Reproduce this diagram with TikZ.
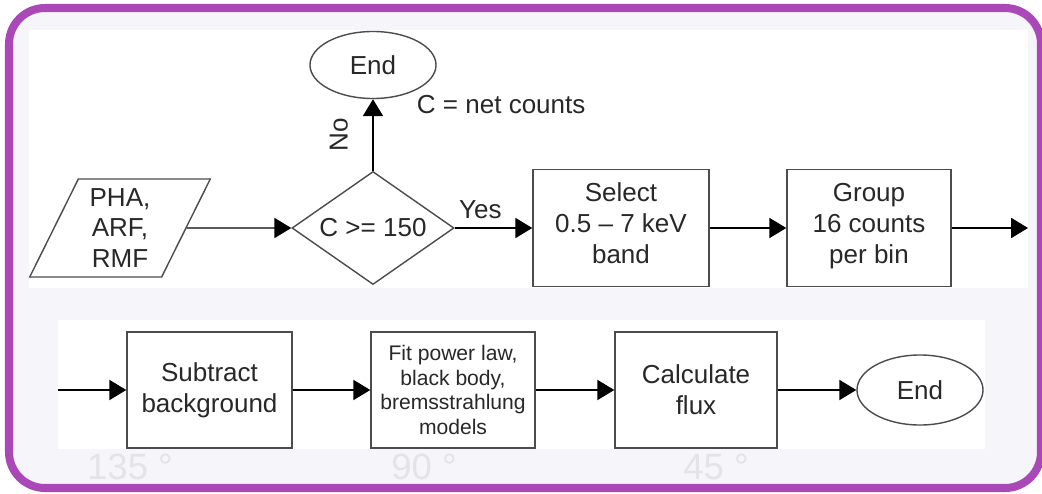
\documentclass[tikz,border=0pt]{standalone}
\usepackage{fontspec}
\setmainfont{Liberation Sans}
\usetikzlibrary{arrows.meta,shapes.geometric}
\definecolor{framepurple}{RGB}{170,72,183}
\definecolor{bgtint}{RGB}{246,245,249}
\definecolor{inkgray}{RGB}{40,40,40}
\definecolor{degreegray}{RGB}{228,228,231}
\tikzset{
  every node/.style={text=inkgray,font=\fontsize{18.5}{22}\selectfont,align=center},
  procbox/.style={draw=black!70,line width=1pt,minimum height=2.9cm,inner sep=2pt},
  termbox/.style={draw=black!70,line width=1pt,ellipse,minimum width=3.15cm,minimum height=1.7cm,inner sep=0pt},
  iobox/.style={draw=black!70,line width=1pt,trapezium,trapezium left angle=66,trapezium right angle=114,trapezium stretches=true,minimum width=4.55cm,minimum height=2.45cm,inner sep=0pt},
  testbox/.style={draw=black!70,line width=1pt,diamond,aspect=1.43,minimum width=4.05cm,minimum height=2.825cm,inner sep=0pt},
  flow/.style={draw=black,line width=1pt,-{Triangle[length=0.42cm,width=0.5cm]}},
  degreelabel/.style={text=degreegray,font=\fontsize{26}{30}\selectfont}
}
\begin{document}
\begin{tikzpicture}[x=0.025cm,y=-0.025cm]
  \useasboundingbox (0,0) rectangle (1042,494);
  \draw[framepurple,line width=5.7pt,rounded corners=0.9cm,fill=bgtint] (9,8) rectangle (1041,488);
  \fill[white] (29,30) rectangle (1028,288);
  \fill[white] (58,320) rectangle (985,449);
  \node[degreelabel] (deg135) at (130,467) {135 °};
  \node[degreelabel] (deg90) at (424,467) {90 °};
  \node[degreelabel] (deg45) at (716,467) {45 °};

  % first row
  \node[iobox] (pha) at (120,228) {PHA,\\ARF,\\RMF};
  \node[testbox] (test) at (373,228) {C >= 150};
  \node[termbox,minimum height=1.675cm] (stop) at (373,65) {End};
  \node[procbox,minimum width=4.4cm,minimum height=2.925cm] (select) at (621,228) {Select\\0.5 – 7 keV\\band\strut};
  \node[procbox,minimum width=4.1cm,minimum height=2.925cm] (group) at (869,228) {Group\\16 counts\\per bin\strut};
  \coordinate (wrapout) at (1028,228);
  \draw[flow] (pha.east) -- (test.west);
  \draw[flow] (test.north) -- node[left=14pt,rotate=90,anchor=south] {No} (stop.south);
  \node[anchor=west] (netc) at (412,105) {C = net counts};
  \draw[flow] (test.east) -- node[above=3pt,pos=0.33] {Yes} (select.west);
  \draw[flow] (select) -- (group);
  \draw[flow] (group) -- (wrapout);

  % second row
  \coordinate (wrapin) at (58,390);
  \node[procbox,minimum width=4.125cm] (subtract) at (209.5,390) {Subtract\\background};
  \node[procbox,minimum width=4.1cm,font=\fontsize{15}{17.5}\selectfont] (fit) at (453,390) {Fit power law,\\black body,\\bremsstrahlung\\models};
  \node[procbox,minimum width=4.05cm] (flux) at (696,390) {Calculate\\flux};
  \node[termbox,minimum height=1.75cm] (done) at (920,390) {End};
  \draw[flow] (wrapin) -- (subtract);
  \draw[flow] (subtract) -- (fit);
  \draw[flow] (fit) -- (flux);
  \draw[flow] (flux) -- (done);
\end{tikzpicture}
\end{document}
